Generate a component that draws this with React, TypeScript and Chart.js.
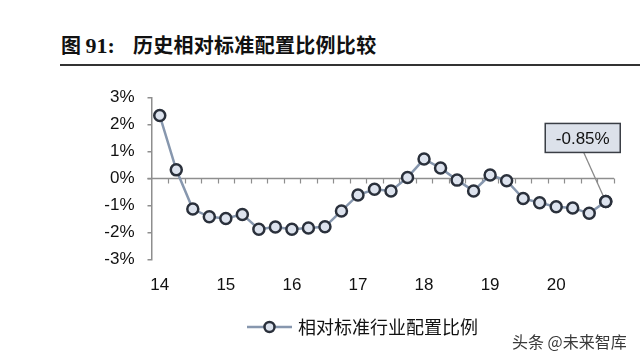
import React, { useEffect, useRef } from "react";
import { Chart, registerables } from "chart.js";

Chart.register(...registerables);

const quarters = [
  "14Q1", "14Q2", "14Q3", "14Q4",
  "15Q1", "15Q2", "15Q3", "15Q4",
  "16Q1", "16Q2", "16Q3", "16Q4",
  "17Q1", "17Q2", "17Q3", "17Q4",
  "18Q1", "18Q2", "18Q3", "18Q4",
  "19Q1", "19Q2", "19Q3", "19Q4",
  "20Q1", "20Q2", "20Q3", "20Q4",
];
const ratioValues = [
  2.33, 0.32, -1.13, -1.42,
  -1.48, -1.33, -1.88, -1.8,
  -1.88, -1.83, -1.79, -1.2,
  -0.61, -0.4, -0.46, 0.04,
  0.72, 0.39, -0.06, -0.46,
  0.13, -0.08, -0.74, -0.9,
  -1.05, -1.09, -1.29, -0.85,
];
const yearTicks = ["14", "15", "16", "17", "18", "19", "20"];
const yMin = -3;
const yMax = 3;
const seriesName = "相对标准行业配置比例";
const calloutText = "-0.85%";
const titlePrefix = "图 ";
const titleNumber = "91:";
const titleText = "历史相对标准配置比例比较";
const watermark = "头条 @未来智库";

const LINE = "#8797ae";
const POINT_FILL = "#dde3ee";
const POINT_BORDER = "#2a303b";
const AXIS = "#8e8e8e";
const CJK = '"Noto Sans CJK SC", sans-serif';
const LAT = '"Liberation Sans", Arial, sans-serif';

const customPlugin = {
  id: "custom",
  beforeDatasetsDraw(chart: any) {
    const { ctx, chartArea, scales } = chart;
    const x = scales.x;
    const y = scales.y;
    const y0 = y.getPixelForValue(0);
    const half = (x.getPixelForValue(1) - x.getPixelForValue(0)) / 2;
    ctx.save();
    ctx.strokeStyle = AXIS;
    ctx.lineWidth = 1.5;
    ctx.beginPath();
    ctx.moveTo(chartArea.left - 4, y0);
    ctx.lineTo(chartArea.right, y0);
    ctx.stroke();
    ctx.lineWidth = 1.2;
    for (let i = 0; i < quarters.length; i++) {
      const bx = Math.round(x.getPixelForValue(i) + half) + 0.5;
      ctx.beginPath();
      ctx.moveTo(bx, y0);
      ctx.lineTo(bx, y0 + 5);
      ctx.stroke();
    }
    ctx.restore();
  },
  afterDatasetsDraw(chart: any) {
    const { ctx } = chart;
    const meta = chart.getDatasetMeta(0);
    const last = meta.data[meta.data.length - 1];
    const px = last.x;
    const py = last.y;
    const bw = 75;
    const bh = 29;
    const bcx = px - 23;
    const bottom = py - 49;
    const left = bcx - bw / 2;
    const top = bottom - bh;
    ctx.save();
    ctx.strokeStyle = "#8a8a8a";
    ctx.lineWidth = 1.3;
    ctx.beginPath();
    ctx.moveTo(bcx + 1, bottom);
    ctx.lineTo(px, py);
    ctx.stroke();
    ctx.fillStyle = "#dce1ea";
    ctx.fillRect(left, top, bw, bh);
    ctx.strokeStyle = "#3a3e45";
    ctx.lineWidth = 1.5;
    ctx.strokeRect(left, top, bw, bh);
    ctx.fillStyle = "#111";
    ctx.font = `17px ${LAT}`;
    ctx.textAlign = "center";
    ctx.textBaseline = "middle";
    ctx.fillText(calloutText, bcx, top + bh / 2 + 1);
    ctx.beginPath();
    ctx.arc(px, py, 5.5, 0, Math.PI * 2);
    ctx.fillStyle = POINT_FILL;
    ctx.fill();
    ctx.lineWidth = 2.5;
    ctx.strokeStyle = POINT_BORDER;
    ctx.stroke();
    ctx.restore();
  },
  afterDraw(chart: any) {
    const { ctx } = chart;
    ctx.save();
    const ly = 327;
    ctx.strokeStyle = LINE;
    ctx.lineWidth = 2.5;
    ctx.beginPath();
    ctx.moveTo(247, ly);
    ctx.lineTo(292, ly);
    ctx.stroke();
    ctx.beginPath();
    ctx.arc(269.5, ly, 5, 0, Math.PI * 2);
    ctx.fillStyle = POINT_FILL;
    ctx.fill();
    ctx.lineWidth = 2.5;
    ctx.strokeStyle = POINT_BORDER;
    ctx.stroke();
    ctx.fillStyle = "#111";
    ctx.font = `18px ${CJK}`;
    ctx.textAlign = "left";
    ctx.textBaseline = "middle";
    ctx.fillText(seriesName, 298, ly);
    ctx.fillStyle = "#3a3a3a";
    ctx.font = `16px ${CJK}`;
    ctx.fillText(watermark, 512, 342);
    ctx.restore();
  },
};

export default function App() {
  const ref = useRef<HTMLCanvasElement>(null);
  useEffect(() => {
    if (!ref.current) return;
    const chart = new Chart(ref.current, {
      type: "line",
      data: {
        labels: quarters,
        datasets: [
          {
            label: seriesName,
            data: ratioValues,
            borderColor: LINE,
            borderWidth: 2.5,
            pointRadius: 5.5,
            pointBackgroundColor: POINT_FILL,
            pointBorderColor: POINT_BORDER,
            pointBorderWidth: 2.5,
            tension: 0,
          },
        ],
      },
      options: {
        animation: false,
        responsive: false,
        devicePixelRatio: 1,
        layout: { padding: { top: 97.5, right: 26, bottom: 0, left: 0 } },
        plugins: { legend: { display: false }, tooltip: { enabled: false } },
        scales: {
          x: {
            type: "category",
            offset: true,
            grid: { display: false },
            border: { display: false },
            ticks: {
              autoSkip: false,
              maxRotation: 0,
              padding: 8,
              color: "#111",
              font: { family: LAT, size: 17 },
              callback: (_v: any, i: number) => (i % 4 === 0 ? yearTicks[i / 4] : ""),
            },
            afterFit: (s: any) => {
              s.height = 99.5;
            },
          },
          y: {
            min: yMin,
            max: yMax,
            grid: {
              drawOnChartArea: false,
              drawTicks: true,
              tickLength: 4,
              color: AXIS,
              lineWidth: 1.5,
            },
            border: { display: true, color: AXIS, width: 1.5 },
            ticks: {
              stepSize: 1,
              padding: 13,
              color: "#111",
              font: { family: LAT, size: 17 },
              callback: (v: any) => `${v}%`,
            },
            afterFit: (s: any) => {
              s.width = 151.5;
            },
          },
        },
      },
      plugins: [customPlugin],
    });
    return () => chart.destroy();
  }, []);

  return (
    <div
      style={{
        position: "fixed",
        left: 0,
        top: 0,
        width: 640,
        height: 359,
        background: "#fff",
        overflow: "hidden",
      }}
    >
      <div
        style={{
          position: "absolute",
          left: 61,
          top: 31,
          fontSize: 20,
          fontWeight: 700,
          color: "#111",
          whiteSpace: "nowrap",
          lineHeight: "28px",
          fontFamily: CJK,
        }}
      >
        <span>{titlePrefix}</span>
        <span style={{ fontFamily: '"Liberation Serif", serif', fontSize: 22 }}>{titleNumber}</span>
        <span style={{ marginLeft: 18, letterSpacing: 0.3 }}>{titleText}</span>
      </div>
      <div
        style={{
          position: "absolute",
          left: 60,
          top: 64,
          width: 580,
          height: 2,
          background: "#333",
        }}
      />
      <canvas ref={ref} width={640} height={359} style={{ position: "absolute", left: 0, top: 0 }} />
    </div>
  );
}
